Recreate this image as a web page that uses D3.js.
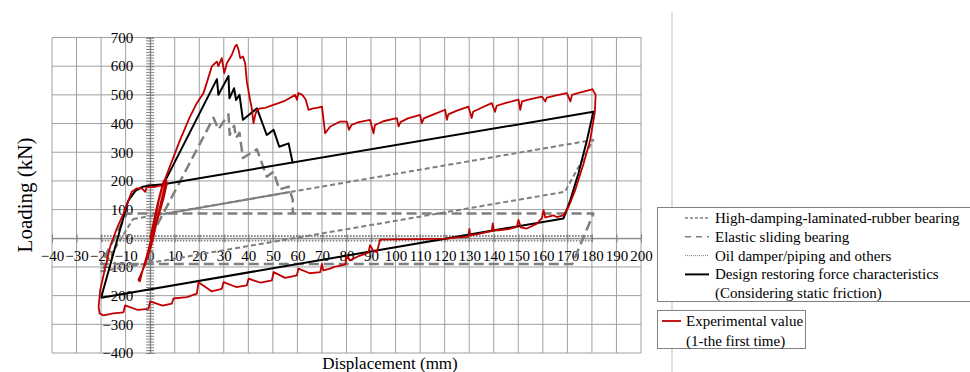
<!DOCTYPE html>
<html>
<head>
<meta charset="utf-8">
<script src="https://cdn.jsdelivr.net/npm/d3@7"></script>
<style>
    body { margin: 0; background: #fff; }
    svg { display: block; font-family: 'Liberation Serif', 'Times New Roman', serif; }
</style>
</head>
<body>
<svg id="chart" width="970" height="372"></svg>
<script>
// Axis ticks
const X_TICKS = d3.range(-40, 201, 10);
const Y_TICKS = d3.range(-400, 701, 100);
const Y_MINOR_TICKS = d3.range(-400, 701, 10);

// High-damping-laminated-rubber bearing (mm, kN)
const rubberLoop = [[-7, 67], [180.6, 343], [169, 162], [-20, -115], [-7, 67]];
const rubberFirst = [[5, 84], [57, 161]];

// Elastic sliding bearing
const slidingLoop = [
    [0, 0], [25.8, 420], [27.8, 380], [31.9, 432], [32.4, 360], [34.2, 392], [35, 350],
    [36.4, 368], [37.8, 280], [43.5, 310], [47.5, 215], [50.3, 232], [52.6, 170],
    [56.4, 180], [58.1, 135], [58.1, 86], [180.6, 86], [172, -90], [-20, -90], [-9.5, 86], [58.1, 86]
];

// Oil damper / piping and others
const oilLoop = [[-20, 8], [180, 8], [180, -8], [-20, -8], [-20, 8]];

// Design restoring force characteristics (considering static friction)
const designLoop = [
    [-20, -207], [-9, 130], [-6, 165], [-3, 180], [0, 184], [5.4, 188], [180.6, 441],
    [178, 343], [174.5, 226], [171.2, 133], [168.4, 69], [-20, -207]
];
const designPeak = [
    [5.4, 188], [27.2, 555], [27.8, 500], [31.9, 566], [32.3, 488], [34.2, 523], [35, 482],
    [36.4, 500], [37.8, 413], [43.5, 453], [47.5, 360], [50.3, 378], [52.6, 319],
    [56.4, 331], [58.1, 261]
];

// Experimental value (1-the first time)
const experimental = [
    [0, 0], [1.5, 60], [3, 120], [4.5, 170], [5.5, 200], [6, 185], [4.5, 130], [3, 70],
    [1.5, 10], [0, -40], [-2, -90], [-4, -130], [-4.8, -145], [-4.2, -150], [-3, -110],
    [-1, -50], [0.5, 0], [2, 60], [3.5, 130], [5, 180], [6.5, 205], [6.8, 190], [5.5, 140],
    [3.5, 80], [1.5, 20], [0, -20], [1, 40], [2.5, 100], [4, 150], [5.4, 191],
    [8, 250], [12.2, 343], [16, 420], [19, 471], [21.7, 506], [23, 540], [25.1, 599],
    [26.5, 611], [27.2, 616], [27.8, 600], [29.2, 628], [30.2, 576], [31.3, 611],
    [33.3, 640], [34.6, 669], [35.3, 675], [36, 657], [36.7, 628], [37.8, 634],
    [38.7, 611], [39.4, 546], [40.7, 483], [41.4, 453], [42.1, 401], [42.8, 430],
    [43.5, 448], [44.8, 453], [47, 455], [50.2, 465], [52, 470], [54.3, 477], [56, 485],
    [59.1, 500], [59.8, 483], [60.4, 506], [62, 500], [63.4, 483], [64.5, 448],
    [66.5, 453], [68, 455], [70, 459], [71.3, 366], [73.3, 389], [77.4, 407], [80.1, 407],
    [81, 378], [82, 395], [85, 405], [89.6, 413], [91, 366], [91.6, 395], [95, 408],
    [100.5, 419], [101.2, 390], [102, 405], [105, 418], [110, 430], [110.7, 401],
    [111.5, 418], [115, 430], [120.2, 448], [120.9, 413], [121.5, 432], [125, 445],
    [129.7, 459], [131, 419], [131.6, 441], [135, 455], [139.2, 471], [140.5, 441],
    [141.2, 462], [145, 472], [150.1, 483], [150.8, 448], [151.5, 477], [155, 485],
    [159.6, 494], [161, 477], [161.6, 490], [165, 497], [169.8, 506], [171.2, 477],
    [171.9, 500], [175, 508], [179.3, 517], [180.2, 520], [181.5, 500], [181.2, 440],
    [179.3, 343], [176.6, 261], [173.2, 168], [170.5, 110], [168.4, 80], [165.7, 74],
    [164.3, 80], [162, 75], [161, 72], [160.3, 98], [159.6, 70], [157.6, 51], [155, 40],
    [153.5, 34], [151, 38], [150.1, 64], [149.4, 40], [146, 32], [142, 28], [140, 28],
    [139.6, 52], [139.2, 25], [137.8, 23], [134, 15], [130.4, 10], [130.1, 33],
    [129.6, 5], [125, 3], [120.9, -1], [110, -3], [100, -4], [93.7, -5], [92.4, -48],
    [91, -45], [89.6, -24], [88.9, -50], [85, -62], [81.5, -77], [80.1, -62], [79.5, -92],
    [75, -100], [73.3, -106], [70.5, -112], [70, -89], [69.3, -118], [65, -122],
    [60.4, -106], [59.8, -129], [55, -138], [50.3, -118], [49.6, -147], [45, -155],
    [40.1, -141], [39.4, -164], [35, -170], [29.9, -153], [29.2, -176], [25, -185],
    [19.7, -153], [19, -193], [15, -205], [9.5, -210], [8.8, -228], [5, -235],
    [0, -220], [-0.7, -246], [-5, -250], [-10.2, -234], [-10.9, -258], [-15, -262],
    [-19, -269], [-20.6, -262], [-21, -240], [-20.4, -182], [-18.5, -110], [-16.3, -30],
    [-13.6, 34], [-10.9, 86], [-8.8, 133], [-7.5, 162], [-5.4, 174], [-3.4, 174],
    [-2, 162], [-1.4, 178], [1.4, 178], [3, 182], [5.4, 185]
];

// Legend texts
const LEGEND_MAIN = [
    'High-damping-laminated-rubber bearing',
    'Elastic sliding bearing',
    'Oil damper/piping and others',
    'Design restoring force characteristics',
    '(Considering static friction)'
];
const LEGEND_EXP = ['Experimental value', '(1-the first time)'];

const GRAY = '#7f7f7f';
const RED = '#c00000';
const FONT = "'Liberation Serif', 'Times New Roman', serif";

const svg = d3.select('#chart');
const x = d3.scaleLinear().domain([-40, 200]).range([52, 641]);
const y = d3.scaleLinear().domain([-400, 700]).range([353, 37.5]);

// Outer chart-area edge on the right
svg.append('line')
    .attr('x1', 672).attr('x2', 672)
    .attr('y1', 12).attr('y2', 372)
    .attr('stroke', '#bfbfbf');

// Grid
const grid = svg.append('g');
grid.selectAll('line.v')
    .data(X_TICKS)
    .join('line')
    .attr('x1', (d) => x(d)).attr('x2', (d) => x(d))
    .attr('y1', y(700)).attr('y2', y(-400))
    .attr('stroke', '#a0a0a0').attr('stroke-width', 1);
grid.selectAll('line.h')
    .data(Y_TICKS)
    .join('line')
    .attr('x1', x(-40)).attr('x2', x(200))
    .attr('y1', (d) => y(d)).attr('y2', (d) => y(d))
    .attr('stroke', '#a0a0a0').attr('stroke-width', 1);

// Axes through the origin
const xAxis = svg.append('g')
    .attr('transform', `translate(0,${ y(0) })`)
    .call(d3.axisBottom(x).tickValues(X_TICKS).tickSize(4).tickPadding(8).tickFormat(d3.format('d')));
const yMinor = svg.append('g')
    .attr('transform', `translate(${ x(0) },0)`)
    .call(d3.axisLeft(y).tickValues(Y_MINOR_TICKS).tickSize(4).tickFormat(''));
const yAxis = svg.append('g')
    .attr('transform', `translate(${ x(0) },0)`)
    .call(d3.axisLeft(y).tickValues(Y_TICKS).tickSize(4).tickPadding(13).tickFormat(d3.format('d')));

[xAxis, yAxis, yMinor].forEach((g) =>
{
    g.select('.domain').attr('stroke', '#808080');
    g.selectAll('.tick line').attr('stroke', '#808080');
    g.selectAll('.tick text')
        .attr('fill', '#000')
        .style('font-family', FONT)
        .style('font-size', '15px');
});
xAxis.selectAll('.tick line').attr('y1', -4).attr('y2', 4);
yAxis.selectAll('.tick line').attr('x1', 4).attr('x2', -4);
yMinor.selectAll('.tick line').attr('x1', 4).attr('x2', -4);
yMinor.select('.domain').remove();

// Series
const line = d3.line().x((d) => x(d[0])).y((d) => y(d[1]));
const series = [
    { data: oilLoop, color: GRAY, width: 1.8, dash: '1.5,1.5' },
    { data: rubberLoop, color: GRAY, width: 2, dash: '5,3' },
    { data: rubberFirst, color: GRAY, width: 2, dash: null },
    { data: slidingLoop, color: GRAY, width: 2.5, dash: '10,5' },
    { data: designLoop, color: '#000', width: 2, dash: null },
    { data: designPeak, color: '#000', width: 2, dash: null },
    { data: experimental, color: RED, width: 1.8, dash: null }
];
series.forEach((s) =>
{
    svg.append('path')
        .datum(s.data)
        .attr('fill', 'none')
        .attr('stroke', s.color)
        .attr('stroke-width', s.width)
        .attr('stroke-dasharray', s.dash)
        .attr('stroke-linejoin', 'round')
        .attr('d', line);
});

// Axis titles
svg.append('text')
    .attr('transform', 'translate(32,195) rotate(-90)')
    .attr('text-anchor', 'middle')
    .style('font-size', '21px')
    .text('Loading (kN)');
svg.append('text')
    .attr('x', 390).attr('y', 369)
    .attr('text-anchor', 'middle')
    .style('font-size', '17px')
    .text('Displacement (mm)');

// Legends
svg.append('rect')
    .attr('x', 657.5).attr('y', 207.5).attr('width', 330).attr('height', 94)
    .attr('fill', '#fff').attr('stroke', '#808080');
svg.append('rect')
    .attr('x', 657.5).attr('y', 310.5).attr('width', 148).attr('height', 38)
    .attr('fill', '#fff').attr('stroke', '#808080');

const legendStyles = [
    { color: GRAY, width: 1.3, dash: '3,2' },
    { color: GRAY, width: 1.5, dash: '6,5' },
    { color: GRAY, width: 1, dash: '1,1' },
    { color: '#000', width: 2, dash: null },
    null
];
LEGEND_MAIN.forEach((label, i) =>
{
    const cy = 218 + i * 18.8;
    const st = legendStyles[i];
    if (st)
    {
        svg.append('line')
            .attr('x1', 685).attr('x2', 709).attr('y1', cy).attr('y2', cy)
            .attr('stroke', st.color).attr('stroke-width', st.width)
            .attr('stroke-dasharray', st.dash);
    }
    svg.append('text')
        .attr('x', 715).attr('y', cy + 5)
        .style('font-size', '15px')
        .text(label);
});
LEGEND_EXP.forEach((label, i) =>
{
    const cy = 321 + i * 19.5;
    if (i === 0)
    {
        svg.append('line')
            .attr('x1', 662).attr('x2', 681).attr('y1', cy).attr('y2', cy)
            .attr('stroke', RED).attr('stroke-width', 1.8);
    }
    svg.append('text')
        .attr('x', 686).attr('y', cy + 5)
        .style('font-size', '15px')
        .text(label);
});
</script>
</body>
</html>
